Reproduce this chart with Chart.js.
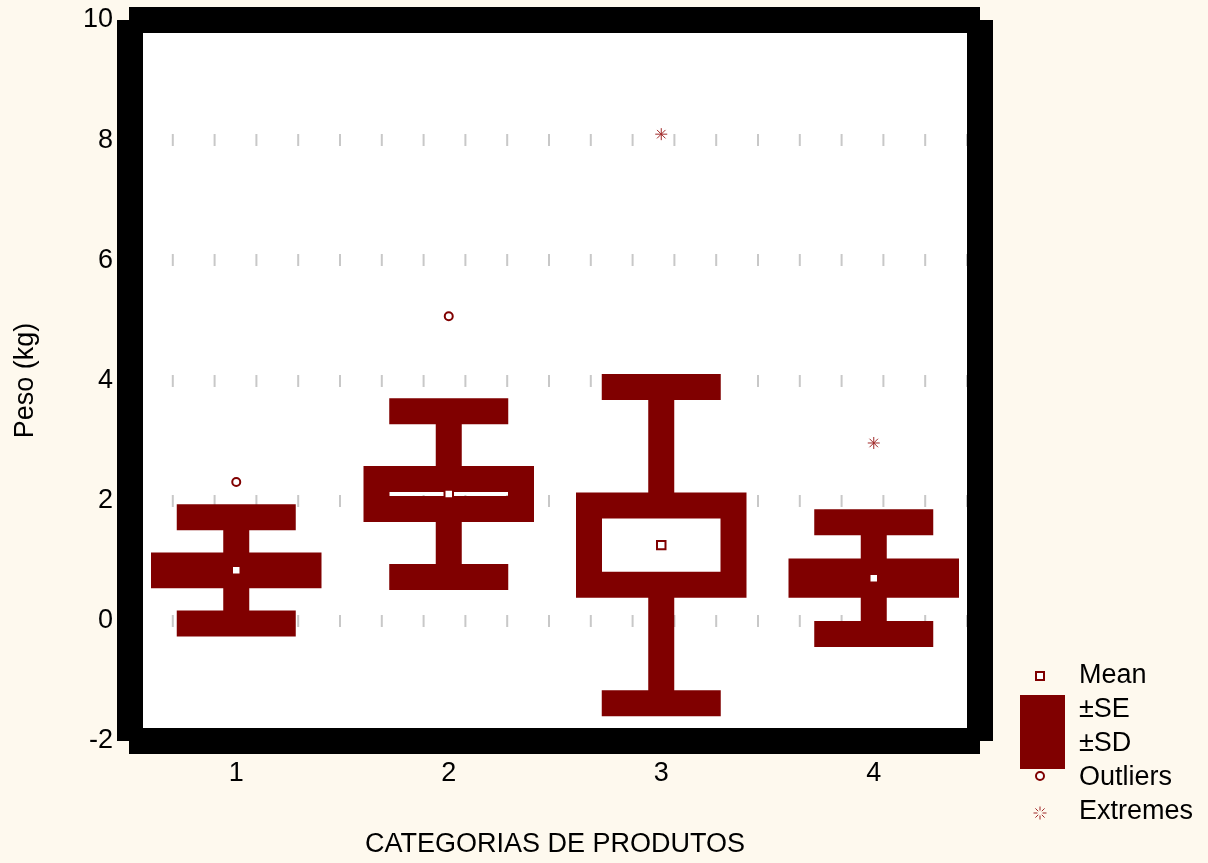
<!DOCTYPE html>
<html>
<head>
<meta charset="utf-8">
<title>Peso por categoria</title>
<script src="https://cdn.jsdelivr.net/npm/chart.js@4.4.0/dist/chart.umd.min.js"></script>
<style>
  html, body { margin: 0; padding: 0; background: #fef9ee; }
  #wrap { width: 1208px; height: 863px; position: relative; }
</style>
</head>
<body>
<div id="wrap"><canvas id="chart"></canvas></div>
<script>
// Summary statistics per product category
const categories = ['1', '2', '3', '4'];
const means = [0.84, 2.11, 1.26, 0.71];
const stdErrors = [0.083, 0.25, 0.66, 0.11];
const stdDevs = [0.883, 1.38, 2.63, 0.93];

// Outliers and extremes: category number + value
const outlierCats = [1, 2];
const outlierValues = [2.31, 5.07];
const extremeCats = [3, 4];
const extremeValues = [8.10, 2.96];

const legendLabels = ['Mean', '±SE', '±SD', 'Outliers', 'Extremes'];

const DARK_RED = '#800000';
const FONT = "'Liberation Sans', Arial, sans-serif";
const FONT_SIZE = 27;
const STROKE = 26;      // thick line width used for boxes, whiskers and frame
const BOX_HALF = 0.34;  // half width of the SE box, in category units
const CAP_HALF = 0.28;  // half width of the SD caps

const gap = x => ({ x: x, y: null });

// Build the line paths from the stats
const whiskerPts = [];
const capPts = [];
const boxPts = [];
categories.forEach((c, i) => {
    const x = i + 1;
    const m = means[i], se = stdErrors[i], sd = stdDevs[i];
    whiskerPts.push({ x, y: m + se }, { x, y: m + sd }, gap(x),
                    { x, y: m - se }, { x, y: m - sd }, gap(x));
    capPts.push({ x: x - CAP_HALF, y: m + sd }, { x: x + CAP_HALF, y: m + sd }, gap(x),
                { x: x - CAP_HALF, y: m - sd }, { x: x + CAP_HALF, y: m - sd }, gap(x));
    // start mid-edge so every corner gets a mitre join
    boxPts.push({ x, y: m - se }, { x: x + BOX_HALF, y: m - se },
                { x: x + BOX_HALF, y: m + se }, { x: x - BOX_HALF, y: m + se },
                { x: x - BOX_HALF, y: m - se }, { x, y: m - se }, gap(x));
});

const meanPts = means.map((m, i) => ({ x: i + 1, y: m }));
const outlierPts = outlierCats.map((c, i) => ({ x: c, y: outlierValues[i] }));
const extremePts = extremeCats.map((c, i) => ({ x: c, y: extremeValues[i] }));

const lineStyle = {
    type: 'line',
    borderColor: DARK_RED,
    borderWidth: STROKE,
    borderCapStyle: 'butt',
    borderJoinStyle: 'miter',
    pointRadius: 0,
    tension: 0,
    spanGaps: false,
    fill: false
};

// White plot area and thick black frame
const frame = {
    id: 'frame',
    beforeDraw(chart) {
        const { ctx, chartArea: a } = chart;
        ctx.save();
        ctx.fillStyle = '#ffffff';
        ctx.fillRect(a.left, a.top, a.right - a.left, a.bottom - a.top);
        ctx.restore();
    },
    afterDatasetsDraw(chart) {
        const { ctx, chartArea: a } = chart;
        ctx.save();
        ctx.strokeStyle = '#000000';
        ctx.lineWidth = STROKE;
        ctx.lineCap = 'butt';
        ctx.beginPath();
        ctx.moveTo(a.left - 1, a.top); ctx.lineTo(a.right, a.top);
        ctx.moveTo(a.left - 1, a.bottom); ctx.lineTo(a.right, a.bottom);
        ctx.moveTo(a.left, a.top); ctx.lineTo(a.left, a.bottom);
        ctx.moveTo(a.right, a.top); ctx.lineTo(a.right, a.bottom);
        ctx.stroke();
        ctx.restore();
    }
};

// Legend block in the lower right corner
const sideLegend = {
    id: 'sideLegend',
    afterDraw(chart) {
        const { ctx, chartArea: a } = chart;
        const sx = a.right + 60;
        const tx = a.right + 99;
        const rowY = legendLabels.map((l, i) => a.bottom - 65 + i * 34);
        ctx.save();

        // mean marker
        ctx.strokeStyle = DARK_RED;
        ctx.fillStyle = '#ffffff';
        ctx.lineWidth = 2;
        ctx.fillRect(sx - 4, rowY[0] - 4, 8, 8);
        ctx.strokeRect(sx - 4, rowY[0] - 4, 8, 8);

        // SE / SD swatch
        ctx.fillStyle = DARK_RED;
        ctx.fillRect(sx - 20, rowY[1] - 15, 45, 74);

        // outlier circle
        ctx.beginPath();
        ctx.arc(sx, rowY[3] - 2, 4, 0, Math.PI * 2);
        ctx.fillStyle = '#ffffff';
        ctx.fill();
        ctx.stroke();

        // extreme star
        ctx.lineWidth = 1;
        ctx.strokeStyle = '#a02828';
        const ey = rowY[4] + 1;
        ctx.beginPath();
        for (let k = 0; k < 8; k++) {
            const ang = k * Math.PI / 4;
            ctx.moveTo(sx + Math.cos(ang) * 2.5, ey + Math.sin(ang) * 2.5);
            ctx.lineTo(sx + Math.cos(ang) * 6.5, ey + Math.sin(ang) * 6.5);
        }
        ctx.stroke();

        ctx.fillStyle = '#000000';
        ctx.font = FONT_SIZE + 'px ' + FONT;
        ctx.textBaseline = 'middle';
        ctx.textAlign = 'left';
        legendLabels.forEach((l, i) => ctx.fillText(l, tx, rowY[i]));
        ctx.restore();
    }
};

new Chart(document.getElementById('chart'), {
    type: 'line',
    data: {
        datasets: [
            { ...lineStyle, label: 'SD', data: whiskerPts, order: 5 },
            { ...lineStyle, label: 'SD caps', data: capPts, order: 4 },
            { ...lineStyle, label: 'SE', data: boxPts, order: 3 },
            {
                label: 'Mean', data: meanPts, showLine: false, order: 2,
                pointStyle: 'rect', pointRadius: 6, borderWidth: 2,
                borderColor: DARK_RED, backgroundColor: '#ffffff'
            },
            {
                label: 'Outliers', data: outlierPts, showLine: false, order: 1,
                pointStyle: 'circle', pointRadius: 4, borderWidth: 2,
                borderColor: DARK_RED, backgroundColor: '#ffffff'
            },
            {
                label: 'Extremes', data: extremePts, showLine: false, order: 0,
                pointStyle: 'star', pointRadius: 6, borderWidth: 1,
                borderColor: '#a02828', backgroundColor: '#a02828'
            }
        ]
    },
    options: {
        responsive: true,
        maintainAspectRatio: false,
        animation: false,
        layout: { padding: { top: 20, right: 228, bottom: 0, left: 0 } },
        plugins: {
            legend: { display: false },
            tooltip: { enabled: false }
        },
        scales: {
            x: {
                type: 'linear',
                min: 0.5,
                max: 4.5,
                afterBuildTicks: s => { s.ticks = categories.map((c, i) => ({ value: i + 1 })); },
                afterFit: s => { s.height = 122; },
                grid: { display: false, drawTicks: false },
                border: { display: false },
                ticks: {
                    callback: (v, i) => categories[i],
                    autoSkip: false,
                    maxRotation: 0,
                    padding: 16,
                    color: '#000000',
                    font: { family: FONT, size: FONT_SIZE }
                },
                title: {
                    display: true,
                    text: 'CATEGORIAS DE PRODUTOS',
                    color: '#000000',
                    font: { family: FONT, size: FONT_SIZE },
                    padding: { top: 0, bottom: 2 }
                }
            },
            y: {
                min: -2,
                max: 10,
                afterFit: s => {
                    s.width = 130;
                    // end labels may overhang the plot edges
                    s.paddingTop = 0;
                    s.paddingBottom = 0;
                },
                grid: {
                    color: '#c8c8c8',
                    lineWidth: 12,
                    drawTicks: false
                },
                border: { display: false, dash: [2, 39.8] },
                ticks: {
                    stepSize: 2,
                    padding: 17,
                    color: '#000000',
                    font: { family: FONT, size: FONT_SIZE }
                },
                title: {
                    display: true,
                    text: 'Peso (kg)',
                    color: '#000000',
                    font: { family: FONT, size: FONT_SIZE },
                    padding: { top: 9, bottom: 0 }
                }
            }
        }
    },
    plugins: [frame, sideLegend]
});
</script>
</body>
</html>
